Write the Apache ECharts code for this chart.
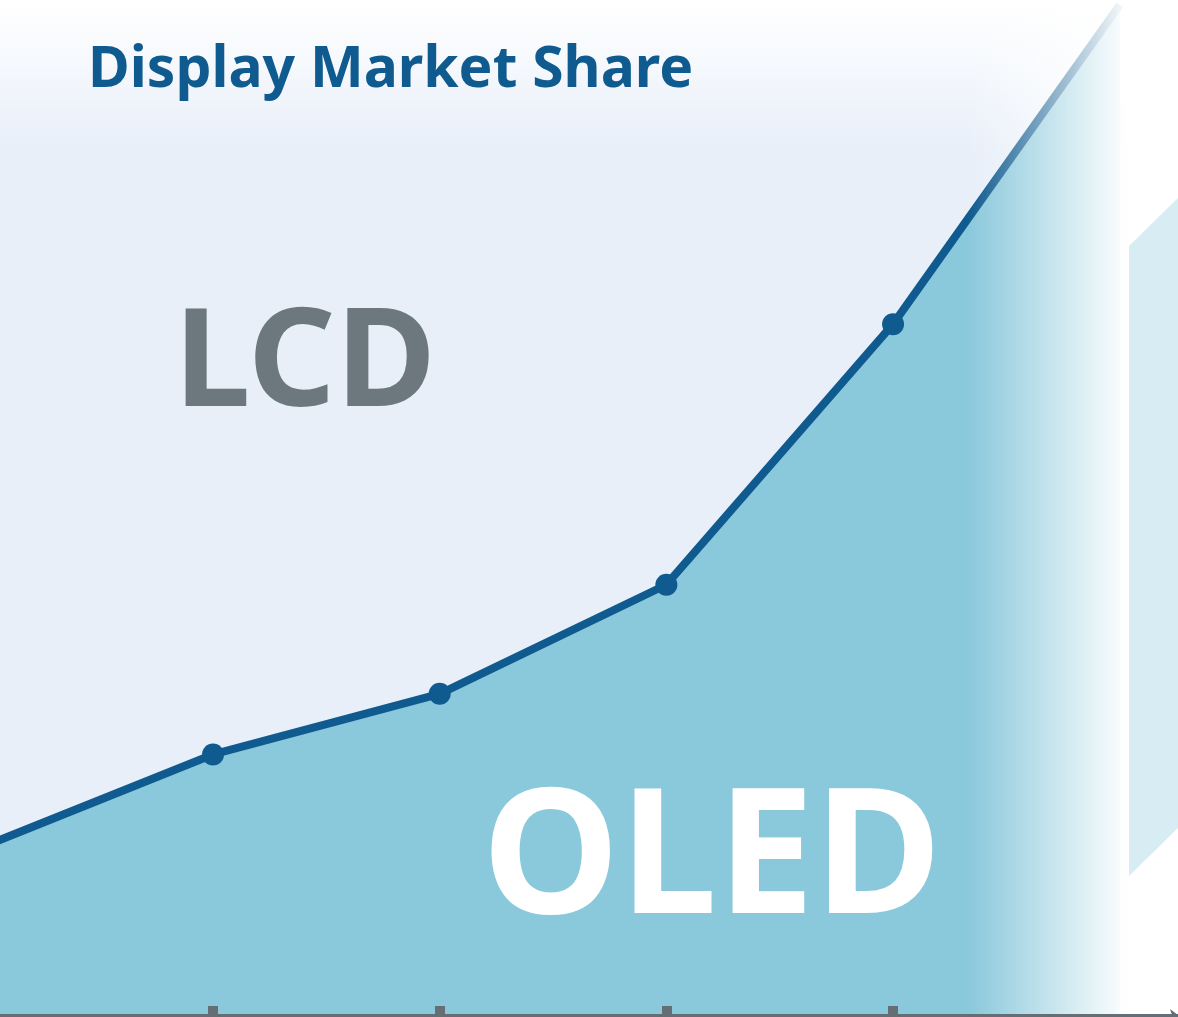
<!DOCTYPE html>
<html>
<head>
<meta charset="utf-8">
<title>Display Market Share</title>
<script src="https://cdn.jsdelivr.net/npm/echarts@6/dist/echarts.min.js"></script>
<style>
  html, body { margin: 0; padding: 0; background: #fff; }
  #chart { width: 1178px; height: 1017px; }
</style>
</head>
<body>
<div id="chart"></div>
<script>
// time steps (no labels shown in the picture); 0 and 5 sit at the edges
const periods = [0, 1, 2, 3, 4, 5];
// OLED share (LCD is the rest above the line)
const oledShare = [16.8, 25.8, 31.8, 42.6, 68.4, 100];
// steps that carry a tick mark on the axis
const tickedPeriods = [1, 2, 3, 4];

const lineColor = '#0f5a8f';
const areaColor = '#8ac8db';
const axisColor = '#646e74';

const chart = echarts.init(document.getElementById('chart'));

const option = {
  backgroundColor: new echarts.graphic.LinearGradient(0, 0, 0, 1, [
    { offset: 0, color: '#ffffff' },
    { offset: 0.15, color: '#e8eff9' },
    { offset: 1, color: '#e8eff9' }
  ]),
  animation: false,
  title: [
    {
      text: 'Display Market Share',
      left: 83, top: 37,
      textStyle: { fontFamily: 'Noto Sans', fontWeight: 'bold', fontSize: 57, color: '#0f5b8f' }
    },
    {
      text: 'LCD',
      left: 169, top: 293,
      textStyle: { fontFamily: 'Noto Sans', fontWeight: 'bold', fontSize: 137, color: '#6d787e' }
    },
    {
      text: 'OLED',
      left: 477, top: 771, z: 50,
      textStyle: { fontFamily: 'Noto Sans', fontWeight: 'bold', fontSize: 174, color: '#ffffff' }
    }
  ],
  grid: { left: 0, right: 0, top: 5, bottom: 2 },
  xAxis: {
    type: 'value',
    // period 1 sits at 213px, period 4 at 893px
    min: 0.0603,
    max: 5.257,
    axisLine: {
      show: true,
      symbol: ['none', 'arrow'],
      symbolSize: [9, 8],
      lineStyle: { color: axisColor, width: 3 }
    },
    axisLabel: { show: false },
    axisTick: {
      show: true,
      inside: true,
      length: 9,
      customValues: tickedPeriods,
      lineStyle: { color: axisColor, width: 10 }
    },
    splitLine: { show: false },
    z: 300
  },
  yAxis: { type: 'value', min: 0, max: 100, show: false },
  graphic: [
    {
      type: 'rect', z: 100,
      shape: { x: 968, y: 0, width: 162, height: 1017 },
      style: {
        fill: new echarts.graphic.LinearGradient(0, 0, 1, 0, [
          { offset: 0, color: 'rgba(255,255,255,0)' },
          { offset: 1, color: 'rgba(255,255,255,1)' }
        ])
      }
    },
    {
      type: 'rect', z: 100,
      shape: { x: 1128, y: 0, width: 60, height: 1017 },
      style: { fill: '#ffffff' }
    },
    {
      type: 'polygon', z: 110,
      shape: { points: [[1129, 246], [1178, 198], [1178, 828], [1129, 876]] },
      style: { fill: '#d8ecf3' }
    }
  ],
  series: [
    {
      name: 'OLED',
      type: 'line',
      data: periods.map(function (p, i) {
        const point = { value: [p, oledShare[i]] };
        if (i === 0 || i === periods.length - 1) point.symbol = 'none';
        return point;
      }),
      symbol: 'circle',
      symbolSize: 22,
      itemStyle: { color: lineColor },
      lineStyle: { color: lineColor, width: 8 },
      areaStyle: { color: areaColor, opacity: 1 },
      z: 2
    }
  ]
};

chart.setOption(option);
</script>
</body>
</html>
